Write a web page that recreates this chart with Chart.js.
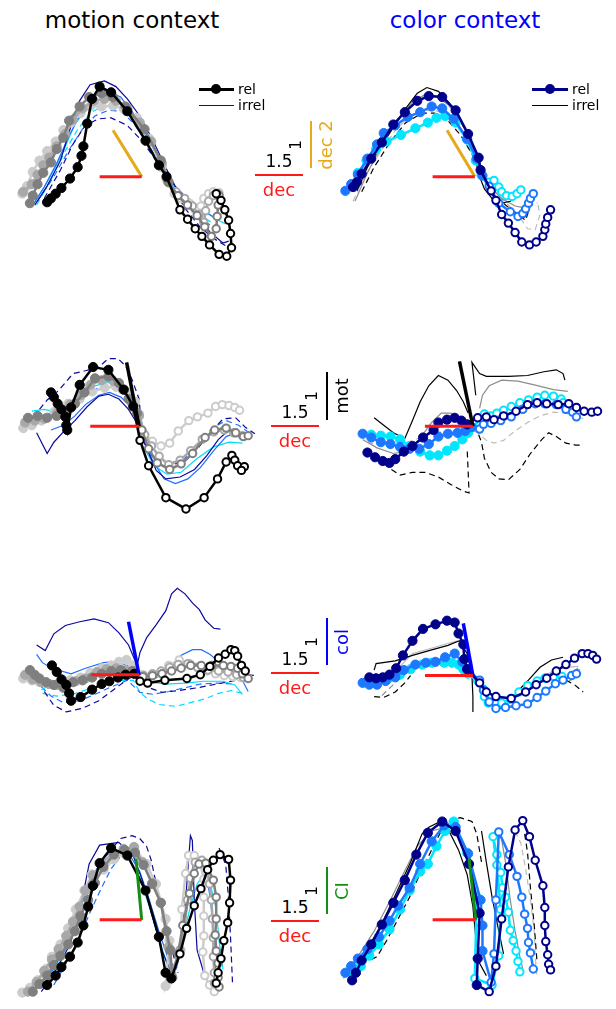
<!DOCTYPE html>
<html>
<head>
<meta charset="utf-8">
<script src="https://cdn.jsdelivr.net/npm/chart.js@4.4.1/dist/chart.umd.min.js"></script>
<style>
  body { margin: 0; width: 616px; height: 1009px; position: relative; background: #fff; overflow: hidden;
         font-family: "DejaVu Sans", sans-serif; }
  canvas { position: absolute; }
  .t { position: absolute; white-space: nowrap; line-height: 1; }
  .c { transform: translate(-50%, -50%); }
  .l { transform: translate(0, -50%); }
  .r { transform: translate(-50%, -50%) rotate(-90deg); }
  .bar { position: absolute; }
</style>
</head>
<body>
<script>
// ---- trajectories, in state-space units (x: dec, y: second axis); F = filled part, O = open part ----

// motion context, dec vs dec 2
const p1BlackF = [[-9.9,-2.7],[-9.5,-2.3],[-9.0,-1.8],[-8.4,-1.2],[-7.5,-0.2],[-6.7,1.0],[-6.3,2.2],[-6.1,3.2],[-5.7,5.6],[-5.2,8.2],[-4.4,9.5],[-3.2,8.9],[-1.5,6.9],[0.4,3.8],[1.8,1.2],[2.6,0.0]];
const p1BlackO = [[4.0,-3.5],[4.8,-4.5],[5.6,-5.5],[6.3,-6.3],[7.1,-7.2],[8.1,-8.2],[8.9,-8.4],[9.4,-7.5],[9.3,-6.0],[9.1,-4.6],[8.7,-3.5],[8.3,-2.5],[7.8,-1.8]];
const p1DarkF = [[-11.7,-2.8],[-11.4,-2.0],[-10.9,-0.8],[-10.3,0.4],[-9.5,1.5],[-8.9,2.9],[-8.2,4.1],[-7.6,5.9],[-6.5,7.4],[-5.5,8.4],[-4.2,8.8],[-3.0,8.4],[-1.7,7.4],[0.3,5.0],[2.0,1.7],[2.8,-0.6]];
const p1DarkO = [[3.8,-2.0],[4.8,-3.0],[5.8,-4.1],[6.6,-5.3],[7.3,-6.3],[7.8,-5.5],[7.9,-4.2],[8.0,-3.0],[8.1,-2.0]];
const p1MidF = [[-12.4,-1.6],[-11.5,-0.8],[-10.9,0.2],[-10.3,1.2],[-9.7,2.0],[-8.9,3.2],[-8.0,4.5],[-7.2,6.0],[-6.2,7.2],[-5.0,8.0],[-3.9,8.2],[-2.7,8.0],[-1.5,7.2],[-0.2,5.7],[1.0,3.7],[2.1,1.4],[2.8,-0.5]];
const p1MidO = [[3.6,-1.6],[4.5,-2.3],[5.3,-3.1],[6.0,-4.0],[6.5,-4.8],[6.7,-3.6],[7.0,-2.6],[7.5,-2.0],[8.0,-1.8]];
const p1LightF = [[-12.5,-1.8],[-12.0,-1.0],[-11.4,0.5],[-10.7,1.7],[-9.9,2.7],[-9.0,3.7],[-8.2,4.9],[-7.4,5.7],[-6.4,6.7],[-5.4,7.4],[-4.2,7.4],[-3.0,7.5],[-1.9,7.2],[-0.5,6.2],[0.8,4.0],[2.1,1.0],[2.6,-0.3]];
const p1LightO = [[3.4,-1.8],[4.1,-2.3],[5.0,-2.8],[5.6,-3.5],[6.0,-4.1],[6.2,-3.1],[6.5,-2.3],[7.0,-1.8],[7.5,-1.6],[8.1,-1.7]];
const p1IrrA = [[-11.2,-3.0],[-9.9,-1.0],[-8.5,1.7],[-7.5,5.0],[-6.5,8.0],[-5.4,9.7],[-3.9,10.1],[-2.7,9.5],[-1.5,8.2],[-0.2,6.4],[1.1,4.0],[2.5,1.0],[3.5,-1.0],[4.5,-2.3],[5.8,-4.0],[7.1,-5.8],[8.5,-7.0],[9.1,-6.8]];
const p1IrrB = [[-11.4,-3.0],[-10.2,-1.1],[-8.9,1.4],[-7.5,4.5],[-6.2,7.0],[-4.9,8.5],[-3.5,9.0],[-2.2,8.4],[-0.9,6.7],[0.5,4.5],[1.8,1.7],[3.1,-0.6],[4.5,-2.0],[5.8,-3.0],[7.1,-4.0],[8.1,-4.6]];
const p1IrrC = [[-11.5,-3.2],[-9.9,-0.6],[-8.5,2.0],[-7.0,5.5],[-5.5,7.5],[-4.2,8.2],[-2.9,8.1],[-1.5,7.0],[-0.2,5.4],[1.1,3.2],[2.5,0.5],[3.8,-1.5],[5.1,-2.6],[6.5,-3.6],[7.8,-4.5],[8.8,-5.0]];
const p1IrrAd = [[-10.2,-2.3],[-8.5,0.7],[-7.2,3.4],[-5.9,5.4],[-4.5,6.1],[-3.2,6.2],[-1.5,5.4],[0.1,3.7],[1.5,1.7],[2.8,-0.3],[4.5,-3.3],[6.1,-5.3],[7.5,-6.5],[8.8,-7.3]];
const p1IrrBd = [[-10.9,-2.6],[-9.2,0.0],[-7.5,3.0],[-6.2,5.0],[-4.9,6.4],[-3.5,7.0],[-2.2,6.9],[-0.9,5.7],[0.5,3.7],[1.8,1.4],[3.1,-1.0],[4.8,-3.0],[6.5,-4.6],[7.8,-5.6]];
const p1IrrCd = [[-11.0,-3.0],[-9.5,-0.3],[-8.0,2.7],[-6.7,5.0],[-5.4,6.7],[-4.0,7.5],[-2.7,7.4],[-1.2,6.4],[0.1,4.5],[1.5,2.0],[2.8,-0.3],[4.5,-2.3],[6.1,-4.0],[7.5,-5.0]];
const p1AxisX = [[-4.4,0],[0,0]];
const p1AxisY = [[0,0],[-3.0,4.9]];

// color context, dec vs dec 2
const p2NavyF = [[-12.7,-1.1],[-12.3,-0.6],[-11.8,0.3],[-10.8,1.9],[-9.7,3.6],[-8.5,5.5],[-7.3,6.8],[-6.0,8.0],[-4.8,8.5],[-3.4,8.4],[-2.0,7.0],[-0.7,4.5],[0.4,2.0],[0.6,0.7]];
const p2NavyO = [[1.7,-1.5],[2.2,-2.5],[2.8,-4.0],[3.5,-4.9],[4.2,-5.9],[4.9,-6.9],[5.7,-7.2],[6.4,-6.9],[7.1,-6.3],[7.3,-5.6],[7.4,-5.0],[7.6,-4.3],[7.9,-3.5]];
const p2BlueF = [[-13.5,-1.5],[-12.9,-0.8],[-12.2,0.2],[-11.2,1.9],[-10.2,3.4],[-9.5,4.6],[-8.3,5.4],[-7.0,6.3],[-5.7,6.8],[-4.5,7.4],[-3.4,7.2],[-2.2,6.1],[-0.8,4.0],[0.2,1.9],[0.8,0.1]];
const p2BlueO = [[1.5,-1.0],[2.5,-2.8],[3.7,-3.7],[4.5,-4.2],[5.0,-3.9],[5.3,-3.4],[5.6,-2.8],[5.8,-2.3],[6.1,-1.8]];
const p2CyanF = [[-12.8,-0.8],[-12.2,0.4],[-11.3,1.7],[-10.3,2.9],[-9.2,3.7],[-7.7,4.4],[-6.2,5.1],[-4.9,5.7],[-4.0,6.2],[-3.1,6.4],[-2.0,5.7],[-0.8,3.9],[0.1,1.7],[0.7,0.2]];
const p2CyanO = [[1.5,-0.6],[2.0,-0.4],[2.5,-1.1],[2.8,-1.6],[3.3,-2.0],[3.9,-2.1],[4.4,-1.8],[4.8,-1.4]];
const p2IrrA = [[-12.3,-1.5],[-11.2,1.0],[-9.8,3.2],[-8.5,5.2],[-7.2,7.2],[-6.0,8.8],[-5.0,9.4],[-3.8,9.0],[-2.7,7.8],[-1.7,6.2],[-0.7,4.4],[0.2,2.2],[0.5,0.0],[1.0,-1.3],[1.8,-2.3],[2.8,-2.8],[3.7,-2.6],[4.5,-2.0],[5.0,-1.1]];
const p2IrrAd = [[-11.8,-1.6],[-10.5,1.0],[-8.8,3.7],[-7.2,5.7],[-5.5,6.7],[-4.2,6.7],[-2.8,5.9],[-1.5,4.4],[-0.3,2.4],[0.5,0.4],[1.8,-1.6],[3.2,-3.0],[4.5,-4.0],[5.3,-4.6],[5.8,-3.0],[6.5,-2.8]];
const p2IrrB = [[-12.5,-2.6],[-11.2,0.4],[-9.5,3.7],[-7.8,6.2],[-6.5,7.9],[-5.3,8.6],[-4.0,8.5],[-2.7,7.5],[-1.5,5.9],[-0.3,3.5],[0.5,1.0],[1.5,-1.0],[2.8,-2.3],[4.2,-3.1],[5.2,-3.3]];
const p2IrrCd = [[-12.7,-2.6],[-11.5,0.0],[-9.8,2.7],[-8.2,5.0],[-6.7,6.4],[-5.2,7.0],[-3.8,6.9],[-2.5,6.0],[-1.2,4.4],[0.0,1.7],[1.2,-0.6],[2.8,-2.3],[4.5,-4.0],[5.5,-5.5],[6.3,-5.6],[6.8,-4.0],[6.5,-2.6]];
const p2AxisX = [[-4.4,0],[0,0]];
const p2AxisY = [[0,0],[-2.9,4.9]];

// motion context, dec vs mot
const p3BlackF = [[-9.2,3.6],[-8.9,3.1],[-8.5,2.4],[-8.1,1.8],[-7.7,1.0],[-7.6,0.1],[-7.5,-0.4],[-7.1,2.0],[-6.2,4.4],[-4.8,6.3],[-3.2,6.0],[-1.6,3.9],[-0.6,2.1]];
const p3BlackO = [[0.1,-1.5],[1.0,-4.2],[2.8,-7.6],[4.9,-8.8],[6.8,-7.6],[8.2,-5.6],[9.1,-3.8],[9.7,-3.1],[10.0,-3.6],[10.3,-4.2],[11.0,-4.3],[10.7,-4.7]];
const p3DarkF = [[-11.6,0.9],[-10.6,1.1],[-9.6,0.9],[-8.6,1.1],[-7.6,1.4],[-6.7,2.4],[-5.7,3.6],[-4.6,5.1],[-3.2,5.3],[-2.1,4.6],[-1.1,2.9],[-0.2,1.4]];
const p3DarkO = [[0.3,-0.4],[1.0,-2.4],[1.9,-3.9],[3.2,-4.6],[4.4,-4.0],[5.6,-2.9],[6.9,-1.2],[7.9,-0.4],[9.1,-0.2],[10.1,-0.7],[10.9,-1.1],[11.4,-1.0]];
const p3MidF = [[-11.9,0.4],[-10.9,0.6],[-9.9,0.8],[-8.6,1.4],[-7.2,2.3],[-6.1,3.3],[-5.1,4.4],[-3.9,4.9],[-2.7,4.8],[-1.7,3.9],[-0.7,2.4],[0.0,1.1]];
const p3MidO = [[0.6,-0.9],[1.3,-2.1],[2.1,-3.2],[3.1,-4.1],[4.3,-3.6],[5.4,-2.6],[6.6,-1.4],[7.8,-0.6],[8.9,-0.4],[9.9,-0.7],[10.8,-1.0]];
const p3LightF = [[-12.1,-0.2],[-11.2,0.1],[-10.2,0.6],[-8.9,1.5],[-7.4,2.4],[-6.2,2.9],[-4.9,3.7],[-3.6,4.1],[-2.4,4.2],[-1.2,3.6],[-0.4,2.6],[0.0,1.3]];
const p3LightO = [[0.4,-0.7],[1.4,-1.6],[2.3,-2.1],[3.2,-1.8],[4.1,-0.5],[5.2,0.6],[6.1,1.0],[7.2,1.4],[8.0,2.1],[8.7,2.3],[9.4,2.2],[10.0,2.0],[10.5,1.7]];
const p3IrrA = [[-10.7,-0.7],[-9.6,-2.9],[-8.9,-1.7],[-7.9,-0.6],[-6.7,0.6],[-5.4,2.1],[-4.2,3.2],[-3.2,3.4],[-2.1,2.9],[-1.1,1.8],[-0.2,0.3],[0.8,-2.4],[1.8,-4.7],[2.8,-5.6],[4.3,-5.4],[5.8,-4.6],[7.1,-3.1],[8.3,-1.4],[9.4,-0.4]];
const p3IrrB = [[-9.2,-0.4],[-7.9,0.1],[-6.7,1.1],[-5.6,2.3],[-4.2,3.3],[-3.1,3.6],[-1.9,3.1],[-0.7,1.9],[0.3,-0.1],[1.3,-3.4],[2.6,-5.6],[3.8,-6.1],[5.1,-5.6],[6.4,-4.4],[7.8,-2.6],[9.1,-1.1],[10.1,-0.7]];
const p3IrrC = [[-11.2,1.6],[-9.9,1.8],[-8.2,1.4],[-6.7,2.4],[-5.2,4.1],[-3.9,4.5],[-2.6,4.8],[-1.4,4.1],[-0.6,2.9],[0.4,-2.1],[1.6,-4.2],[2.9,-5.1],[4.4,-4.9],[6.1,-3.4],[7.8,-2.2],[9.4,-1.7],[10.8,-1.8]];
const p3IrrAd = [[-10.4,1.8],[-9.6,2.8],[-8.4,3.8],[-6.9,5.6],[-5.6,5.9],[-4.2,6.3],[-3.2,7.2],[-2.2,7.2],[-1.4,6.4],[-0.7,4.9],[0.0,2.9],[0.4,-1.4],[1.1,-2.9],[2.1,-3.9],[3.4,-4.1],[4.8,-3.7],[6.1,-2.4],[7.4,-0.7],[8.8,0.8],[10.1,0.9],[11.1,-0.1],[12.1,-0.8]];
const p3IrrBd = [[-7.2,1.6],[-5.6,3.3],[-3.9,4.3],[-2.4,4.3],[-1.1,3.6],[-0.1,2.3],[0.8,-2.1],[1.8,-3.4],[3.1,-3.9],[4.6,-3.6],[6.1,-2.1],[7.6,-0.2],[9.1,0.6],[10.4,0.1],[11.4,-0.6]];
const p3AxisX = [[-5.1,0],[0,0]];
const p3AxisY = [[0,0],[-1.3,6.8]];

// color context, dec vs mot
const p4NavyF = [[-11.0,-2.8],[-10.2,-3.3],[-9.4,-3.7],[-8.7,-3.9],[-8.1,-3.5],[-7.2,-2.7],[-6.3,-2.1],[-5.2,-1.2],[-4.1,-0.4],[-3.6,0.4],[-2.7,0.7],[-1.9,0.9],[-1.2,0.6],[-0.6,0.2]];
const p4NavyO = [[0.5,0.9],[1.4,1.0],[2.2,0.7],[3.2,1.1],[4.5,1.6],[5.7,2.3],[6.7,2.5],[7.7,2.4],[8.9,2.3],[10.0,2.4],[10.8,2.0],[11.6,1.6],[12.4,1.5],[13.0,1.6]];
const p4BlueF = [[-11.5,-0.8],[-10.6,-1.2],[-9.6,-1.7],[-8.6,-1.9],[-7.6,-2.2],[-6.6,-2.4],[-5.6,-2.4],[-4.6,-1.9],[-3.6,-1.1],[-2.6,-0.8],[-1.6,-0.7],[-0.8,-0.5],[-0.1,-0.1]];
const p4BlueO = [[0.7,-0.3],[1.1,0.2],[1.9,0.3],[2.9,0.6],[4.0,1.0],[5.2,1.8],[6.5,2.4],[7.5,2.4],[8.7,2.3],[9.7,1.8],[10.4,1.5],[10.8,1.0]];
const p4CyanF = [[-10.6,-0.9],[-9.6,-1.0],[-8.6,-1.1],[-7.6,-1.4],[-6.6,-2.1],[-5.5,-2.7],[-4.5,-3.1],[-3.6,-3.1],[-2.7,-2.6],[-1.9,-2.1],[-1.1,-1.4],[-0.5,-0.7]];
const p4CyanO = [[1.2,1.3],[1.9,1.1],[2.5,1.4],[3.2,1.7],[4.0,2.1],[4.9,2.5],[5.8,2.8],[6.7,3.1],[7.5,3.3],[8.4,3.2],[9.2,2.9],[9.4,2.5]];
const p4IrrA = [[-10.3,0.9],[-9.3,0.1],[-8.3,-0.7],[-7.1,-1.3],[-6.3,0.6],[-5.5,2.6],[-4.6,4.3],[-3.6,5.4],[-2.6,4.9],[-1.7,3.8],[-1.0,2.6],[-0.5,1.4],null,[0.3,3.3],[-0.1,6.8],[0.7,5.6],[1.4,5.3],[3.7,5.3],[5.7,5.4],[7.4,5.8],[8.7,6.0],[9.4,5.6],[9.6,4.9]];
const p4IrrAd = [[-8.5,-4.6],[-7.6,-5.2],[-6.3,-4.9],[-5.0,-4.9],[-3.6,-5.4],[-2.3,-6.2],[-1.0,-6.9],[-0.4,-7.1],[-0.5,-4.7],[-0.6,-2.4],null,[0.6,-0.9],[0.9,-1.7],[1.2,-3.4],[1.9,-4.9],[2.7,-5.6],[3.7,-5.7],[4.9,-4.6],[6.0,-2.9],[7.2,-1.4],[7.9,-0.7],[8.7,-1.1],[9.7,-1.8],[10.7,-2.0],[11.5,-2.0]];
const p4IrrB = [[-11.5,-1.4],[-10.0,-2.3],[-8.3,-2.9],[-7.0,-2.7],[-5.6,-1.4],[-4.3,0.4],[-3.3,1.4],[-2.3,1.4],[-1.5,0.8],[-1.0,-0.1],null,[0.7,1.9],[1.0,3.3],[1.7,4.3],[3.0,4.9],[4.7,4.8],[6.4,4.4],[8.4,3.9],[9.9,3.7]];
const p4IrrCd = [[-11.0,-1.7],[-9.3,-2.1],[-7.6,-2.0],[-6.0,-1.4],[-4.3,-0.8],[-2.6,-0.5],[-1.0,-0.3],[0.4,-0.6],[1.4,-1.5],[2.2,-1.8],[3.2,-1.5],[4.4,-0.5],[5.7,0.4],[7.0,1.1],[8.4,1.5],[9.7,1.4],[11.5,0.8]];
const p4AxisX = [[-5.0,0],[0,0]];
const p4AxisY = [[0,0],[-1.4,6.9]];

// motion context, dec vs col
const p5BlackF = [[-9.1,1.0],[-8.6,0.3],[-8.1,-0.5],[-7.6,-1.1],[-7.3,-2.0],[-7.1,-2.8],[-6.1,-2.4],[-4.9,-1.6],[-3.9,-1.0],[-3.1,-0.7],[-2.2,-0.3],[-1.4,0.0],[-0.5,0.1]];
const p5BlackO = [[0.1,-0.7],[0.9,-0.9],[2.7,-0.6],[5.0,-0.4],[6.4,0.0],[7.4,0.9],[8.3,1.8],[9.0,2.2],[9.6,2.7],[10.0,2.6],[10.3,2.0],[10.7,1.0],[11.1,0.4]];
const p5DarkF = [[-11.4,0.5],[-10.9,0.0],[-10.4,-0.4],[-9.7,-0.8],[-8.9,-1.1],[-7.9,-1.4],[-6.9,-0.8],[-5.9,-0.6],[-4.9,-0.3],[-3.9,0.1],[-2.9,0.4],[-1.9,0.5],[-0.7,0.4]];
const p5DarkO = [[0.4,-0.2],[1.4,-0.1],[2.4,0.1],[3.4,0.4],[4.4,0.7],[5.4,1.0],[6.5,1.0],[7.6,1.0],[8.8,1.0],[9.6,0.9],[10.3,0.7],[10.8,0.1],[11.4,-0.4]];
const p5MidF = [[-11.9,0.0],[-11.1,-0.5],[-10.2,-0.8],[-9.4,-1.0],[-8.6,-1.1],[-7.6,-1.0],[-6.6,-0.7],[-5.6,-0.4],[-4.4,0.3],[-3.4,0.6],[-2.4,0.7],[-1.4,0.5],[-0.4,0.2]];
const p5MidO = [[0.5,-0.1],[1.4,0.1],[2.3,0.4],[3.2,0.8],[4.1,1.1],[5.1,1.2],[6.1,0.8],[7.2,0.5],[8.3,0.4],[9.3,0.3],[10.2,0.0],[10.9,-0.3]];
const p5LightF = [[-12.1,-0.4],[-11.2,-0.6],[-10.4,-0.8],[-9.4,-1.0],[-8.4,-0.9],[-7.2,-0.6],[-6.1,-0.3],[-5.1,0.2],[-3.9,0.7],[-2.9,1.0],[-2.1,1.4],[-1.3,1.6],[-0.6,1.0]];
const p5LightO = [[0.4,0.0],[1.3,-0.1],[2.2,0.2],[3.1,1.0],[4.2,1.6],[5.3,1.2],[6.2,0.7],[7.1,0.4],[8.0,0.1],[8.9,-0.1],[9.8,-0.2],[10.6,-0.3],[11.4,-0.4]];
const p5IrrA = [[-10.7,3.2],[-9.8,2.6],[-8.9,4.4],[-7.7,5.3],[-6.2,5.7],[-4.7,6.0],[-3.2,5.6],[-2.1,4.5],[-1.1,3.2],[-0.2,1.0],[0.1,2.4],[0.8,4.0],[1.8,5.4],[2.8,6.9],[3.4,8.7],[4.0,9.3],[4.8,8.7],[5.6,7.7],[6.3,7.0],[6.9,5.9],[7.8,5.0],[8.5,4.9]];
const p5IrrB = [[-10.7,2.2],[-10.1,1.3],[-9.1,0.7],[-7.1,0.1],[-5.6,0.7],[-3.7,1.3],[-2.4,1.4],[-1.2,1.0],[-0.1,0.0],[1.8,-0.3],[3.3,0.7],[4.4,2.1],[5.6,2.7],[6.5,2.7],[7.4,2.2],[8.1,1.6],[9.4,0.7],[10.8,-0.6],[11.4,-1.8]];
const p5IrrC = [[-10.2,-1.6],[-8.9,-0.9],[-7.2,-0.5],[-5.2,0.0],[-3.2,0.4],[-1.6,0.7],[-0.2,0.1],[1.3,-0.8],[2.8,-1.0],[4.8,-0.9],[6.8,-0.7],[8.8,-0.7],[10.0,-1.1],[10.8,-2.1]];
const p5IrrAd = [[-9.9,-1.8],[-8.9,-3.3],[-7.6,-4.0],[-5.9,-3.6],[-4.2,-2.8],[-2.9,-1.8],[-1.6,-0.8],[-0.6,-0.1],[0.8,-1.3],[2.4,-1.9],[4.1,-1.7],[6.1,-1.4],[8.1,-1.0],[10.1,-0.6],[11.4,0.0],[12.4,-0.1]];
const p5IrrBd = [[-10.2,-1.3],[-9.2,-2.3],[-7.9,-3.0],[-6.2,-2.8],[-4.6,-2.1],[-2.9,-1.3],[-1.2,-0.6],[0.1,-1.9],[1.4,-2.1],[3.1,-1.8],[4.8,-1.4],[6.4,-1.0],[8.1,-0.9],[9.8,-1.0]];
const p5IrrCd = [[-10.1,-2.0],[-8.6,-2.3],[-6.6,-2.0],[-4.6,-1.3],[-2.6,-0.6],[-0.6,-0.6],[0.1,-1.9],[0.9,-2.6],[2.1,-3.2],[3.8,-3.4],[5.4,-3.0],[6.9,-2.6],[8.3,-2.0],[9.6,-1.7],[10.8,-2.0]];
const p5AxisX = [[-5.0,0],[0,0]];
const p5AxisY = [[0,0],[-1.1,5.7]];

// color context, dec vs col
const p6NavyF = [[-10.8,-0.2],[-10.1,-0.3],[-9.4,-0.2],[-8.7,0.1],[-8.0,0.8],[-7.3,2.2],[-6.3,3.8],[-5.2,5.1],[-3.9,5.6],[-2.7,6.0],[-1.9,5.8],[-1.5,4.6],[-1.0,3.4],[-0.9,1.8],[-0.6,0.7]];
const p6NavyO = [[0.7,-0.8],[1.4,-1.8],[2.4,-2.3],[4.0,-2.5],[5.5,-1.8],[6.6,-1.0],[7.7,-0.3],[8.7,0.5],[9.7,1.2],[10.6,1.9],[11.4,2.4],[12.0,2.4],[12.5,2.2],[12.9,1.8]];
const p6BlueF = [[-11.5,-0.8],[-10.8,-1.0],[-10.0,-1.0],[-9.1,-0.6],[-8.1,-0.2],[-7.2,0.6],[-6.0,1.2],[-4.9,1.4],[-3.9,1.5],[-2.9,2.0],[-1.9,2.4],[-1.1,1.5],[-0.6,0.7]];
const p6BlueO = [[0.7,-0.5],[1.1,-1.6],[1.7,-2.9],[2.4,-3.6],[3.4,-3.5],[4.5,-3.3],[5.7,-3.1],[6.7,-2.4],[7.6,-1.7],[8.6,-0.9],[9.4,-0.5],[10.3,0.0],[10.8,0.2]];
const p6CyanF = [[-11.0,-0.6],[-10.0,-0.6],[-8.8,-0.3],[-7.6,0.1],[-6.5,0.7],[-5.3,1.2],[-4.3,1.4],[-3.0,1.4],[-2.2,1.4],[-1.5,1.2],[-1.0,0.7],[-0.5,0.2]];
const p6CyanO = [[0.5,-0.6],[1.1,-1.5],[1.2,-2.3],[1.6,-3.0],[2.4,-3.0],[3.0,-3.0],[3.9,-2.6],[4.8,-1.8],[5.7,-1.1],[6.7,-0.6],[7.5,-0.3],[8.4,-0.1],[9.3,-0.1]];
const p6IrrA = [[-10.3,0.6],[-10.1,1.3],[-8.1,1.6],[-6.3,2.2],[-4.3,2.8],[-2.6,3.3],[-1.4,3.8],[-0.6,2.4],[-0.1,0.0],[0.0,-2.3],[0.0,-4.0],null,[4.4,-2.0],[5.7,-0.6],[7.0,0.9],[8.2,1.7],[9.4,2.0]];
const p6IrrAd = [[-10.3,-2.3],[-9.3,-2.4],[-8.1,-1.8],[-7.1,-0.8],[-6.5,0.0],null,[9.7,-0.5],[10.6,-1.0],[11.5,-1.8]];
const p6IrrB = [[-9.3,-0.3],[-7.6,1.0],[-6.3,2.4],[-4.6,2.9],[-3.0,3.4],[-1.6,3.8],null,[6.4,-0.6],[8.4,0.5],[9.7,0.9],[11.0,1.0]];
const p6IrrBd = [[-9.5,-2.2],[-8.6,-1.3],[-7.6,-0.3],null,[9.0,-0.8],[10.2,-0.5],[11.0,1.0],[11.2,0.0]];
const p6AxisX = [[-5.0,0],[0,0]];
const p6AxisY = [[0,0],[-1.0,5.7]];

// motion context, dec vs CI
const p7BlackF = [[-9.9,-6.9],[-9.0,-5.9],[-8.4,-5.0],[-7.5,-3.9],[-6.7,-2.4],[-6.1,-0.6],[-5.6,1.4],[-5.1,3.6],[-4.4,6.0],[-3.2,7.6],[-1.5,6.8],[0.4,3.1],[1.8,-1.8],[2.5,-5.6],[3.1,-6.2]];
const p7BlackO = [[4.0,-3.6],[4.7,-0.9],[5.5,1.5],[6.2,3.3],[6.9,5.3],[7.5,6.3],[8.2,6.9],[9.1,6.4],[9.3,4.2],[9.2,1.8],[9.0,-0.3],[8.6,-2.2],[8.3,-4.1],[8.0,-5.6],[7.8,-6.7]];
const p7DarkF = [[-11.4,-7.6],[-10.7,-6.8],[-9.9,-5.9],[-9.2,-4.8],[-8.5,-3.8],[-7.7,-2.6],[-7.0,-1.2],[-6.4,0.4],[-5.6,2.1],[-4.9,3.9],[-4.0,5.6],[-2.9,6.9],[-1.8,7.4],[-0.7,7.1],[0.2,5.8],[1.1,3.8],[2.0,1.8],[2.6,-1.2],[3.0,-3.2],[3.2,-6.1]];
const p7DarkO = [[3.8,-3.6],[4.3,-0.6],[5.0,2.8],[5.5,4.9],[6.0,5.9],[6.7,6.0],[7.5,4.2],[7.8,2.4],[7.8,0.1],[7.7,-1.6],[7.8,-3.3],[8.0,-4.6],[8.0,-6.1],[8.1,-7.1]];
const p7MidF = [[-11.9,-7.6],[-11.0,-6.6],[-10.2,-5.4],[-9.4,-4.2],[-8.7,-3.1],[-7.9,-1.7],[-7.2,-0.2],[-6.5,1.4],[-5.9,3.1],[-5.1,4.7],[-4.2,5.9],[-3.0,7.1],[-1.9,7.5],[-0.8,7.7],[0.1,6.1],[1.1,3.9],[2.0,1.8],[2.8,-2.9],[3.1,-5.7]];
const p7MidO = [[4.0,-3.2],[4.5,-0.6],[4.8,2.1],[5.1,4.4],[5.6,6.1],[6.3,6.3],[6.9,5.4],[7.1,3.8],[7.3,2.1],[7.4,0.1],[7.5,-1.9],[7.5,-3.9],[7.6,-5.6],[7.6,-6.7]];
const p7LightF = [[-12.5,-7.7],[-11.7,-7.2],[-10.9,-6.4],[-10.0,-5.2],[-9.4,-3.9],[-8.5,-2.6],[-7.7,-0.9],[-6.9,1.1],[-6.0,3.1],[-5.2,4.8],[-4.0,5.3],[-2.9,6.4],[-1.9,7.1],[-0.8,7.7],[0.5,5.9],[1.5,3.8],[2.5,0.1],[2.9,-2.2],[2.5,-7.0]];
const p7LightO = [[4.1,-3.2],[4.2,1.1],[4.6,4.9],[4.9,6.8],[5.5,6.8],[6.1,6.2],[6.5,4.3],[6.5,2.4],[6.5,0.4],[6.5,-1.7],[6.4,-3.4],[6.6,-5.9],[7.1,-6.9],[7.6,-7.6]];
const p7IrrA = [[-10.5,-7.6],[-8.9,-5.2],[-7.5,-2.6],[-6.5,0.8],[-5.5,5.9],[-4.4,7.9],[-2.4,8.2],[-0.9,6.8],[0.1,4.1],[1.1,0.4],[2.1,-3.2],[3.1,-5.6],[4.0,-3.6],[4.6,2.1],[5.1,8.9],[5.3,8.4],[5.5,2.1],[5.8,-3.2],[6.5,-5.6]];
const p7IrrB = [[-10.4,-7.2],[-8.5,-3.9],[-6.9,0.1],[-5.5,3.8],[-4.2,6.4],[-2.9,7.4],[-1.4,7.1],[-0.2,5.1],[0.8,2.1],[1.8,-1.2],[2.8,-4.2],[3.6,-5.2],[4.3,-2.6],[4.8,2.1],[5.3,5.4],[5.8,6.4],[6.6,5.4],[7.1,2.8],[7.5,-0.6],[7.6,-3.9],[7.8,-5.9]];
const p7IrrC = [[-10.2,-7.1],[-8.7,-4.6],[-7.4,-1.9],[-6.2,1.1],[-5.2,4.1],[-4.0,6.3],[-2.7,7.1],[-1.4,6.6],[-0.2,4.4],[0.8,1.4],[1.8,-1.9],[2.6,-4.6],[3.5,-5.2],[4.3,-1.9],[5.1,1.4],[5.8,3.8],[6.5,4.8],[7.1,4.1],[7.8,1.1],[8.1,-2.2],[8.5,-5.2]];
const p7IrrAd = [[-2.9,7.8],[-2.2,8.6],[-1.0,8.9],[-0.2,8.6],[0.5,7.8],[1.0,6.3],[1.6,3.4],[2.5,-0.2],[3.1,-2.9],[3.8,-5.6],null,[8.1,7.6],[8.8,5.8],[9.1,2.1],[9.3,-1.9],[9.5,-6.6]];
const p7IrrBd = [[-9.2,-6.9],[-7.9,-4.6],[-6.5,-1.9],[-5.4,0.8],[-4.2,3.4],[-3.2,5.4],[-2.3,6.6]];
const p7AxisX = [[-4.4,0],[0,0]];
const p7AxisY = [[0,0],[-0.6,6.5]];

// color context, dec vs CI
const p8NavyF = [[-12.9,-6.4],[-12.5,-5.6],[-11.9,-4.3],[-10.9,-2.6],[-9.8,-0.5],[-8.6,1.8],[-7.4,4.2],[-6.2,6.9],[-5.0,9.2],[-3.5,10.4],[-2.1,9.4],[-0.7,5.9],[0.4,0.7],[0.2,-4.1],[0.1,-6.9]];
const p8NavyO = [[1.4,-7.6],[2.1,-4.9],[2.7,0.1],[3.4,5.6],[4.1,9.5],[4.9,10.5],[5.6,8.8],[6.2,6.3],[7.0,3.6],[7.2,1.3],[7.2,-0.6],[7.3,-2.3],[7.5,-3.7],[7.6,-4.7],[7.8,-5.3]];
const p8BlueF = [[-13.6,-5.6],[-13.0,-4.9],[-12.3,-4.1],[-11.3,-3.1],[-10.1,-1.8],[-9.0,-0.1],[-8.1,1.5],[-6.9,3.4],[-5.8,5.9],[-4.6,8.3],[-3.3,10.0],[-2.1,9.8],[-0.8,7.0],[0.5,2.1],[0.7,-0.6],[0.7,-3.3]];
const p8BlueO = [[1.6,-6.6],[1.9,-3.6],[2.1,2.1],[2.4,9.3],[3.5,6.9],[4.3,4.6],[4.8,2.4],[5.1,0.6],[5.4,-0.9],[5.5,-2.4],[5.7,-3.5],[6.0,-5.2]];
const p8CyanF = [[-13.1,-5.6],[-12.0,-4.9],[-11.1,-3.8],[-10.1,-2.6],[-9.0,-1.0],[-7.9,1.1],[-6.9,3.1],[-5.8,5.1],[-5.0,5.9],[-4.1,7.8],[-3.2,9.4],[-2.3,10.4],[-0.9,7.1],[0.1,2.4]];
const p8CyanO = [[-0.1,-6.2],[1.7,-6.9],[2.4,-3.8],[2.6,1.1],[2.2,5.8],[1.8,8.8],[2.2,6.9],[2.6,5.0],[2.8,3.4],[3.1,2.4],[3.4,0.8],[3.6,-1.1],[3.9,-2.2],[4.2,-3.3],[4.4,-4.4],[4.6,-5.5]];
const p8IrrA = [[-13.1,-6.1],[-11.6,-3.6],[-9.9,-0.6],[-8.3,2.8],[-6.8,6.1],[-5.6,9.1],[-4.9,9.8],[-3.9,10.3],[-2.8,9.4],[-1.8,7.4],[-0.9,4.8],[-0.3,1.4],[0.0,-1.9],[0.4,-4.6],[1.1,-5.9],null,[0.6,9.4],[1.1,6.1],[1.7,2.4],[2.4,-1.2],[2.9,-3.6]];
const p8IrrAd = [[-10.9,-4.2],[-10.3,-3.9],[-9.3,-2.2],[-8.1,0.1],[-6.9,2.4],[-5.8,4.9],[-4.6,7.4],[-3.6,9.4],[-2.6,10.6],[-1.6,10.8],[-0.4,10.4],[0.1,9.1],[0.6,6.1],null,[5.1,9.1],[5.4,7.1],[5.7,3.4],[6.1,-0.6],[6.4,-4.6]];
const p8IrrB = [[-13.8,-6.2],[-12.3,-3.9],[-10.6,-1.2],[-8.9,2.1],[-7.6,4.8],[-6.1,7.8],[-4.6,9.4],[-3.1,9.8],[-2.0,8.8],null,[2.6,9.1],[3.1,6.1],[3.6,2.1],[4.1,-1.2],[4.6,-3.9],[4.9,-5.2]];
const p8IrrCd = [[4.1,9.4],[4.7,8.1],[5.2,5.4],[5.7,2.1],[6.1,-1.2],[6.2,-3.9],[6.4,-6.2]];
const p8AxisX = [[-4.5,0],[0,0]];
const p8AxisY = [[0,0],[-0.7,6.5]];

// ---- colours ----
const BLACK = '#000000', DARK = '#7f7f7f', MID = '#a8a8a8', LIGHT = '#cccccc';
const NAVY = '#00008b', BLUE = '#1e78ff', CYAN = '#00e6ff';
const IRR_NAVY = '#0a0a9e', IRR_BLUE = '#1f6fff', IRR_CYAN = '#00dcff';
const IRR_BLACK = '#000000', IRR_GRAY = '#8c8c8c', IRR_LIGHT = '#bcbcbc';
const RED = '#ff1a1a', GOLD = '#e5a919', AX_BLUE = '#0000ff', AX_GREEN = '#139013';

const xy = p => p ? { x: p[0], y: p[1] } : { x: null, y: null };

function rel(filled, open, color) {
  const n = filled.length;
  const pts = filled.concat(open).map(xy);
  return {
    data: pts, showLine: true, borderColor: color, borderWidth: 2.5,
    pointRadius: pts.map((p, i) => i < n ? 4.6 : 3.7),
    pointBorderWidth: pts.map((p, i) => i < n ? 1 : 2),
    pointBackgroundColor: pts.map((p, i) => i < n ? color : '#ffffff'),
    pointBorderColor: color
  };
}

function irr(pts, color, dashed) {
  return {
    data: pts.map(xy), showLine: true, spanGaps: false, borderColor: color,
    borderWidth: 1.2, borderDash: dashed ? [6, 4] : [], pointRadius: 0
  };
}

function axis(pts, color, w) {
  return { data: pts.map(xy), showLine: true, borderColor: color, borderWidth: w, pointRadius: 0 };
}

const panels = [
  { left: 0, top: 55, w: 270, h: 230, ox: 142, oy: 177, sets: [
    axis(p1AxisX, RED, 3), axis(p1AxisY, GOLD, 3),
    rel(p1BlackF, p1BlackO, BLACK), rel(p1DarkF, p1DarkO, DARK), rel(p1MidF, p1MidO, MID), rel(p1LightF, p1LightO, LIGHT),
    irr(p1IrrA, IRR_NAVY), irr(p1IrrB, IRR_BLUE), irr(p1IrrC, IRR_CYAN),
    irr(p1IrrAd, IRR_NAVY, true), irr(p1IrrBd, IRR_BLUE, true), irr(p1IrrCd, IRR_CYAN, true)] },
  { left: 325, top: 55, w: 291, h: 230, ox: 475, oy: 177, sets: [
    axis(p2AxisX, RED, 3), axis(p2AxisY, GOLD, 3),
    rel(p2NavyF, p2NavyO, NAVY), rel(p2BlueF, p2BlueO, BLUE), rel(p2CyanF, p2CyanO, CYAN),
    irr(p2IrrA, IRR_BLACK), irr(p2IrrAd, IRR_BLACK, true), irr(p2IrrB, IRR_GRAY), irr(p2IrrCd, IRR_LIGHT, true)] },
  { left: 0, top: 330, w: 280, h: 200, ox: 139, oy: 426, sets: [
    axis(p3AxisX, RED, 3), axis(p3AxisY, BLACK, 3.5),
    rel(p3BlackF, p3BlackO, BLACK), rel(p3DarkF, p3DarkO, DARK), rel(p3MidF, p3MidO, MID), rel(p3LightF, p3LightO, LIGHT),
    irr(p3IrrA, IRR_NAVY), irr(p3IrrB, IRR_BLUE), irr(p3IrrC, IRR_CYAN),
    irr(p3IrrAd, IRR_NAVY, true), irr(p3IrrBd, IRR_BLUE, true)] },
  { left: 325, top: 330, w: 291, h: 200, ox: 473, oy: 426, sets: [
    axis(p4AxisX, RED, 3), axis(p4AxisY, BLACK, 3.5),
    rel(p4NavyF, p4NavyO, NAVY), rel(p4BlueF, p4BlueO, BLUE), rel(p4CyanF, p4CyanO, CYAN),
    irr(p4IrrA, IRR_BLACK), irr(p4IrrAd, IRR_BLACK, true), irr(p4IrrB, IRR_GRAY), irr(p4IrrCd, IRR_LIGHT, true)] },
  { left: 0, top: 560, w: 280, h: 170, ox: 139, oy: 677, sets: [
    axis(p5AxisX, RED, 3), axis(p5AxisY, AX_BLUE, 3.5),
    rel(p5BlackF, p5BlackO, BLACK), rel(p5DarkF, p5DarkO, DARK), rel(p5MidF, p5MidO, MID), rel(p5LightF, p5LightO, LIGHT),
    irr(p5IrrA, IRR_NAVY), irr(p5IrrB, IRR_BLUE), irr(p5IrrC, IRR_CYAN),
    irr(p5IrrAd, IRR_NAVY, true), irr(p5IrrBd, IRR_BLUE, true), irr(p5IrrCd, IRR_CYAN, true)] },
  { left: 325, top: 590, w: 291, h: 140, ox: 473, oy: 677, sets: [
    axis(p6AxisX, RED, 3), axis(p6AxisY, AX_BLUE, 3.5),
    rel(p6NavyF, p6NavyO, NAVY), rel(p6BlueF, p6BlueO, BLUE), rel(p6CyanF, p6CyanO, CYAN),
    irr(p6IrrA, IRR_BLACK), irr(p6IrrAd, IRR_BLACK, true), irr(p6IrrB, IRR_LIGHT), irr(p6IrrBd, IRR_GRAY, true)] },
  { left: 0, top: 790, w: 270, h: 219, ox: 142, oy: 921, sets: [
    axis(p7AxisX, RED, 3), axis(p7AxisY, AX_GREEN, 3),
    rel(p7BlackF, p7BlackO, BLACK), rel(p7DarkF, p7DarkO, DARK), rel(p7MidF, p7MidO, MID), rel(p7LightF, p7LightO, LIGHT),
    irr(p7IrrA, IRR_NAVY), irr(p7IrrB, IRR_BLUE), irr(p7IrrC, IRR_CYAN),
    irr(p7IrrAd, IRR_NAVY, true), irr(p7IrrBd, IRR_BLUE, true)] },
  { left: 325, top: 790, w: 291, h: 219, ox: 476, oy: 921, sets: [
    axis(p8AxisX, RED, 3), axis(p8AxisY, AX_GREEN, 3),
    rel(p8NavyF, p8NavyO, NAVY), rel(p8BlueF, p8BlueO, BLUE), rel(p8CyanF, p8CyanO, CYAN),
    irr(p8IrrA, IRR_BLACK), irr(p8IrrAd, IRR_BLACK, true), irr(p8IrrB, IRR_GRAY), irr(p8IrrCd, IRR_LIGHT, true)] }
];

// one chart per panel; 10 px per state-space unit, origin where the two axis lines meet
panels.forEach(p => {
  const cv = document.createElement('canvas');
  cv.width = p.w; cv.height = p.h;
  cv.style.cssText = `left:${p.left}px;top:${p.top}px;width:${p.w}px;height:${p.h}px`;
  document.body.appendChild(cv);
  new Chart(cv, {
    type: 'scatter',
    data: { datasets: p.sets },
    options: {
      responsive: false, animation: false, devicePixelRatio: 1,
      layout: { padding: 0 },
      plugins: { legend: { display: false }, tooltip: { enabled: false } },
      scales: {
        x: { display: false, min: (p.left - p.ox) / 10, max: (p.left + p.w - p.ox) / 10 },
        y: { display: false, min: (p.oy - p.top - p.h) / 10, max: (p.oy - p.top) / 10 }
      }
    }
  });
});

// titles, legends and scale bars
function txt(s, x, y, size, color, cls) {
  const d = document.createElement('div');
  d.className = 't ' + (cls || 'c');
  d.textContent = s;
  d.style.cssText = `left:${x}px;top:${y}px;font-size:${size}px;color:${color}`;
  document.body.appendChild(d);
}
function bar(x, y, w, h, color) {
  const d = document.createElement('div');
  d.className = 'bar';
  d.style.cssText = `left:${x}px;top:${y}px;width:${w}px;height:${h}px;background:${color}`;
  document.body.appendChild(d);
}
function dot(x, y, r, color) {
  const d = document.createElement('div');
  d.className = 'bar';
  d.style.cssText = `left:${x - r}px;top:${y - r}px;width:${2 * r}px;height:${2 * r}px;border-radius:50%;background:${color}`;
  document.body.appendChild(d);
}

txt('motion context', 132, 20, 23, '#000');
txt('color context', 465, 20, 23, '#0000ff');

// legends
bar(199, 88, 35, 2.5, BLACK); dot(216, 89, 5, BLACK);
txt('rel', 238, 89, 14, '#000', 'l');
bar(199, 105, 35, 1.2, IRR_NAVY);
txt('irrel', 238, 105, 14, '#000', 'l');
bar(532, 88, 36, 2.5, NAVY); dot(550, 89, 5, NAVY);
txt('rel', 572, 89, 14, '#000', 'l');
bar(532, 105, 36, 1.2, IRR_BLACK);
txt('irrel', 572, 105, 14, '#000', 'l');

// scale bars between the columns
const scaleRows = [
  { rx: 255, ry: 175, vx: 311, vy0: 121, vy1: 168, label: 'dec 2', color: GOLD },
  { rx: 271, ry: 426, vx: 327, vy0: 372, vy1: 420, label: 'mot', color: '#000' },
  { rx: 271, ry: 673, vx: 327, vy0: 618, vy1: 665, label: 'col', color: AX_BLUE },
  { rx: 271, ry: 921, vx: 327, vy0: 867, vy1: 914, label: 'CI', color: AX_GREEN }
];
scaleRows.forEach(s => {
  bar(s.rx, s.ry - 1, 48, 2, RED);
  txt('1.5', s.rx + 24, s.ry - 14, 17, '#000');
  txt('dec', s.rx + 24, s.ry + 15, 18, RED);
  bar(s.vx - 1, s.vy0, 2, s.vy1 - s.vy0, s.color);
  txt('1', s.vx - 15, (s.vy0 + s.vy1) / 2, 15, '#000', 'r');
  txt(s.label, s.vx + 15, (s.vy0 + s.vy1) / 2, 18, s.color, 'r');
});
</script>
</body>
</html>
